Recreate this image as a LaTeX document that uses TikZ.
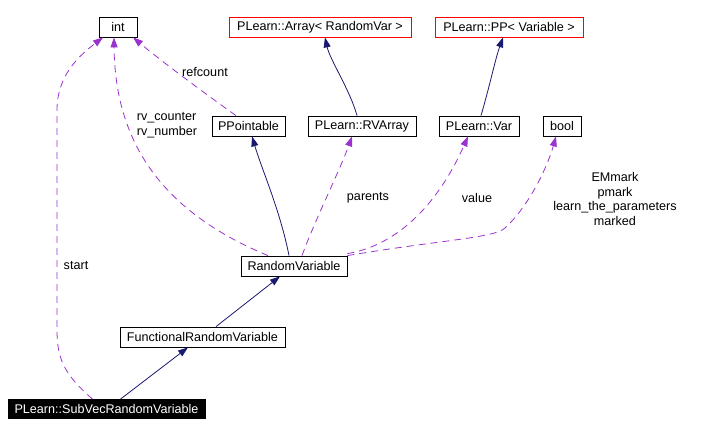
\documentclass[tikz,border=0pt]{standalone}
\usepackage{fontspec}
\setmainfont{Liberation Sans}
\usetikzlibrary{arrows.meta}
\definecolor{edgenavy}{RGB}{25,25,112}
\definecolor{edgepurple}{RGB}{154,50,205}
\definecolor{boxred}{RGB}{255,0,0}
\begin{document}
\begin{tikzpicture}[x=1pt,y=-1pt,
  font=\fontsize{12.6}{14.8}\selectfont,
  cls/.style={draw=black,line width=0.8pt,rectangle,minimum height=20pt,inner sep=0pt,fill=white},
  tmpl/.style={cls,draw=boxred},
  cur/.style={cls,fill=black,text=white,minimum height=19pt},
  inh/.style={draw=edgenavy,line width=0.8pt,-{Triangle[length=10pt,width=7pt]}},
  use/.style={draw=edgepurple,line width=0.8pt,dash pattern=on 7pt off 5pt,-{Triangle[length=10pt,width=7pt,fill=edgepurple]}},
  lbl/.style={align=center,inner sep=0pt}]
\useasboundingbox (0,0) rectangle (702,436);
% nodes
\node[cls,minimum width=38pt] (int) at (118,27) {int};
\node[tmpl,minimum width=182pt] (arr) at (320,27) {PLearn::Array< RandomVar >};
\node[tmpl,minimum width=148pt] (pp) at (509,27) {PLearn::PP< Variable >};
\node[cls,minimum width=73pt] (ppt) at (248.5,126) {PPointable};
\node[cls,minimum width=108pt] (rva) at (362,126) {PLearn::RVArray};
\node[cls,minimum width=80pt] (var) at (479,126) {PLearn::Var};
\node[cls,minimum width=38pt] (bool) at (562,126) {bool};
\node[cls,minimum width=106pt] (rv) at (294,266) {RandomVariable};
\node[cls,minimum width=165pt] (frv) at (202.5,337) {FunctionalRandomVariable};
\node[cur,minimum width=197pt] (sub) at (106.5,409) {PLearn::SubVecRandomVariable};
% inheritance edges
\draw[inh] ([xshift=-5pt]rva.north) .. controls (350,90) and (330,60) .. ([xshift=5pt]arr.south);
\draw[inh] ([xshift=2pt]var.north) .. controls (490,85) and (495,60) .. ([xshift=-6pt]pp.south);
\draw[inh] ([xshift=-5pt]rv.north) .. controls (280,210) and (262,170) .. ([xshift=3.5pt]ppt.south);
\draw[inh] ([xshift=13.5pt]frv.north) -- ([xshift=-14pt]rv.south);
\draw[inh] ([xshift=14pt]sub.north) -- ([xshift=-14.5pt]frv.south);
% usage edges
\draw[use] ([xshift=-12.5pt]ppt.north) .. controls (200,90) and (160,60) .. ([xshift=15pt]int.south);
\draw[use] ([xshift=-26pt]rv.north) .. controls (170,215) and (115,150) .. ([xshift=-4pt]int.south);
\draw[use] ([xshift=-14pt]sub.north) .. controls (65,375) and (57,360) .. (57,330) -- (57,110) .. controls (57,75) and (80,55) .. ([xshift=-15pt]int.south);
\draw[use] ([xshift=8pt]rv.north) .. controls (315,220) and (340,170) .. ([xshift=-10pt]rva.south);
\draw[use] ([yshift=2pt]rv.north east) .. controls (400,245) and (440,200) .. ([xshift=-11pt]var.south);
\draw[use] (rv.north east) .. controls (440,240) and (495,238) .. (505,228) .. controls (530,205) and (548,165) .. ([xshift=-6pt]bool.south);
% labels
\node[lbl] (l1) at (205,72) {refcount};
\node[lbl,align=left] (l2) at (167,125) {rv\_counter\\rv\_number};
\node[lbl] (l3) at (368,198) {parents};
\node[lbl] (l4) at (477,198) {value};
\node[lbl] (l5) at (615,199) {EMmark\\pmark\\learn\_the\_parameters\\marked};
\node[lbl] (l6) at (76,265) {start};
\end{tikzpicture}
\end{document}
